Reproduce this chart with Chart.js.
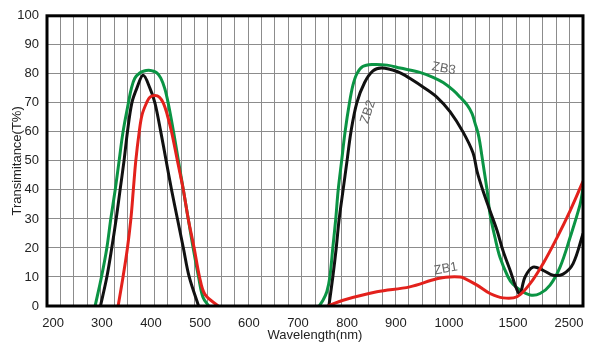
<!DOCTYPE html>
<html>
<head>
<meta charset="utf-8">
<script src="https://cdn.jsdelivr.net/npm/chart.js@4.4.1/dist/chart.umd.min.js"></script>
<style>
  html, body { margin: 0; padding: 0; background: #fff; }
</style>
</head>
<body>
<canvas id="myChart" width="600" height="348"></canvas>
<script>
// Wavelength ticks - the axis is not linear (it gets squeezed after 900 nm)
const tickNm = [200, 300, 400, 500, 600, 700, 800, 900, 1000, 1500, 2500];
// position of each tick, counted in grid cells from the left edge (plot is 40 cells wide)
const tickCell = [0.45, 4.10, 7.76, 11.42, 15.07, 18.73, 22.39, 26.04, 30.0, 34.78, 38.96];
const gridCells = 40;

// ZB3 (green) - null marks the gap between the two pass bands
const zb3Nm = [286, 299, 310, 318, 327, 335, 343, 354, 360, 367, 377, 386, 395, 403, 412, 420, 428, 435, 446, 456, 466, 476, 486, 497, 506, 518,
               630,
               743, 751, 759, 765, 771, 777, 782, 789, 796, 805, 812, 820, 832, 851, 882, 908, 945, 970, 989, 1034, 1086,
               1141, 1180, 1203, 1227, 1242, 1266, 1297, 1320, 1359, 1398, 1461, 1500, 1625, 1804, 1982, 2161, 2339, 2518, 2697, 2750];
const zb3T  = [0, 10, 20, 30, 40, 50, 60, 70, 75, 78.5, 80.3, 81, 81.2, 81, 80.3, 78.5, 75, 70, 60, 50, 40, 30, 20, 10, 3, 0,
               null,
               0, 2, 5, 10, 20, 30, 40, 50, 60, 70, 76, 80, 82.5, 83.2, 83, 82, 80.5, 78.8, 77, 74.3, 72,
               69.3, 66.3, 63, 59.5, 56, 49, 40, 31.7, 23.6, 16.8, 10, 7.5, 5.5, 3.8, 4.3, 7.2, 13.4, 23.6, 35, 40.7];

// ZB2 (black)
const zb2Nm = [297, 310, 320, 329, 337, 345, 352, 361, 371, 384, 398, 408, 420, 431, 442, 454, 466, 478, 497,
               630,
               763, 771, 778, 784, 792, 800, 808, 820, 836, 853, 871, 902, 926, 951, 977, 1008, 1109, 1188, 1219, 1266,
               1320, 1375, 1422, 1477, 1571, 1625, 1714, 1857, 2036, 2214, 2393, 2572, 2750];
const zb2T  = [0, 10, 20, 30, 40, 50, 60, 70, 75, 79.5, 75, 70, 60, 50, 40, 30, 20, 10, 0,
               null,
               0, 10, 20, 30, 40, 50, 60, 70, 77, 81, 82, 80.8, 78.5, 75.5, 72, 67, 60, 52.7, 46.4, 39.6,
               32.8, 26, 19, 12.3, 5.5, 4.1, 10, 13.4, 12.3, 10.6, 11, 14.6, 25];

// ZB1 (red)
const zb1Nm = [333, 343, 352, 359, 364, 369, 376, 382, 391, 398, 408, 417, 425, 433, 442, 454, 466, 476, 488, 499, 510, 537,
               650,
               761, 792, 861, 926, 977, 1008, 1086, 1109, 1219, 1320, 1422, 1571, 1804, 2036, 2286, 2518, 2750];
const zb1T  = [0, 10, 20, 30, 40, 50, 60, 66, 70, 72, 72.5, 72, 70, 66, 60, 50, 40, 30, 20, 10, 4, 0,
               null,
               0, 2, 4.9, 6.6, 9.4, 10, 10, 9.8, 7.2, 4.3, 2.8, 3.2, 7.7, 14.6, 23.6, 32.8, 43];

// curve names written on the plot
const curveNames = ['ZB1', 'ZB2', 'ZB3'];
const curveNameNm = [994, 843, 990];
const curveNameT = [12.8, 66.9, 81.8];
const curveNameAngle = [-10, -72, 10];

const FONT = 'Arial, "Liberation Sans", sans-serif';

// piecewise linear map from nm to grid-cell position
function toCell(nm) {
    let i = 0;
    while (i < tickNm.length - 2 && nm > tickNm[i + 1]) i++;
    const f = (nm - tickNm[i]) / (tickNm[i + 1] - tickNm[i]);
    return tickCell[i] + f * (tickCell[i + 1] - tickCell[i]);
}

function series(nm, t) {
    return nm.map((v, i) => ({ x: toCell(v), y: t[i] }));
}

// thick frame + curve names
const framePlugin = {
    id: 'frame',
    afterDatasetsDraw(chart) {
        const { ctx, chartArea: a, scales } = chart;
        ctx.save();
        ctx.strokeStyle = '#000';
        ctx.lineWidth = 3;
        ctx.strokeRect(a.left, a.top, a.right - a.left, a.bottom - a.top);

        ctx.font = '13px ' + FONT;
        ctx.fillStyle = '#666';
        ctx.textAlign = 'center';
        ctx.textBaseline = 'middle';
        curveNames.forEach((name, i) => {
            const px = scales.x.getPixelForValue(toCell(curveNameNm[i]));
            const py = scales.y.getPixelForValue(curveNameT[i]);
            ctx.save();
            ctx.translate(px, py);
            ctx.rotate(curveNameAngle[i] * Math.PI / 180);
            ctx.fillText(name, 0, 0);
            ctx.restore();
        });
        ctx.restore();
    }
};

function line(data, color, order) {
    return {
        data: data,
        borderColor: color,
        borderWidth: 3,
        pointRadius: 0,
        fill: false,
        tension: 0.35,
        spanGaps: false,
        order: order
    };
}

const ctx = document.getElementById('myChart').getContext('2d');
new Chart(ctx, {
    type: 'line',
    data: {
        datasets: [
            line(series(zb1Nm, zb1T), '#e3211c', 0),
            line(series(zb2Nm, zb2T), '#111111', 1),
            line(series(zb3Nm, zb3T), '#0b9444', 2)
        ]
    },
    options: {
        responsive: false,
        animation: false,
        devicePixelRatio: 1,
        layout: { padding: { left: 0, right: 17, top: 13, bottom: 0 } },
        plugins: {
            legend: { display: false },
            tooltip: { enabled: false }
        },
        scales: {
            x: {
                type: 'linear',
                position: 'bottom',
                min: 0,
                max: gridCells,
                grid: { display: false },
                border: { display: false },
                afterBuildTicks: axis => { axis.ticks = tickCell.map(v => ({ value: v })); },
                afterFit: axis => { axis.height = 42; },
                ticks: {
                    autoSkip: false,
                    maxRotation: 0,
                    padding: 2,
                    color: '#222',
                    font: { size: 13, family: FONT },
                    callback: (v, i) => tickNm[i]
                },
                title: {
                    display: true,
                    text: 'Wavelength(nm)',
                    color: '#222',
                    font: { size: 13, family: FONT },
                    padding: { top: 0, bottom: 5 }
                }
            },
            xg: {
                type: 'linear',
                position: 'bottom',
                min: 0,
                max: gridCells,
                afterBuildTicks: axis => {
                    const t = [];
                    for (let i = 0; i <= gridCells; i++) t.push({ value: i });
                    axis.ticks = t;
                },
                afterFit: axis => { axis.height = 0; },
                ticks: { display: false },
                grid: { color: '#8c8c8c', lineWidth: 1, drawTicks: false },
                border: { display: false }
            },
            y: {
                min: 0,
                max: 100,
                afterFit: axis => { axis.width = 47; },
                ticks: {
                    stepSize: 10,
                    padding: 8,
                    color: '#222',
                    font: { size: 13, family: FONT }
                },
                grid: { color: '#8c8c8c', lineWidth: 1, drawTicks: false },
                border: { display: false },
                title: {
                    display: true,
                    text: 'Transimitance(T%)',
                    color: '#222',
                    font: { size: 13, family: FONT },
                    padding: { top: 10, bottom: 0 }
                }
            }
        }
    },
    plugins: [framePlugin]
});
</script>
</body>
</html>
